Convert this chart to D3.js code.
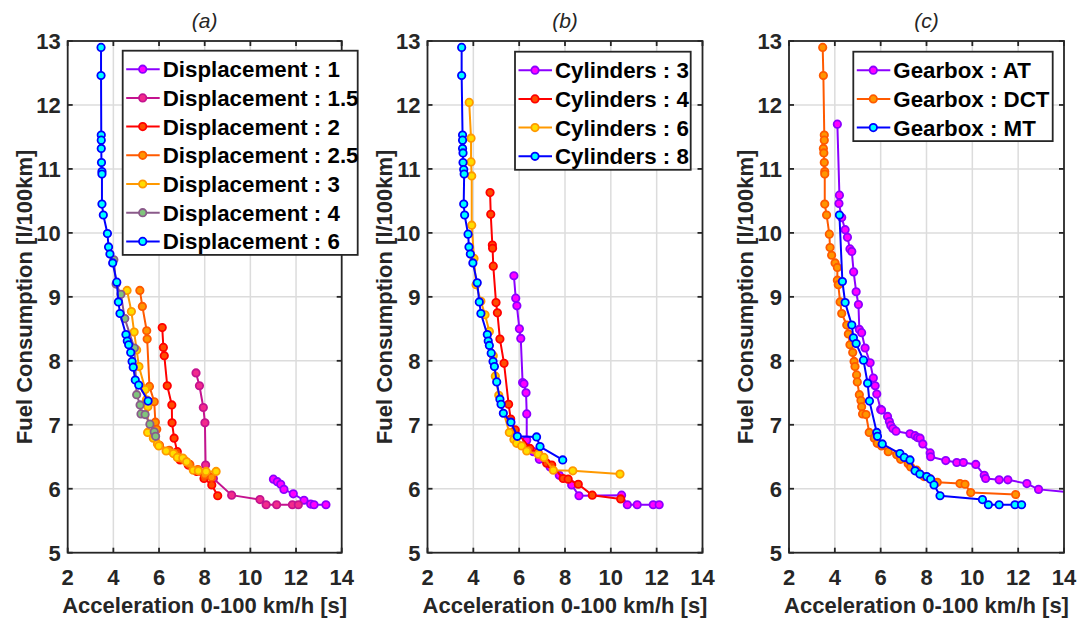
<!DOCTYPE html>
<html>
<head>
<meta charset="utf-8">
<script src="https://cdn.jsdelivr.net/npm/d3@7"></script>
<style>
  html, body { margin: 0; padding: 0; background: #fff; }
  svg { display: block; font-family: "Liberation Sans", Arial, Helvetica, sans-serif; }
</style>
</head>
<body>
<svg id="fig" width="1080" height="619"></svg>
<script>
// Axis ranges and tick values shared by the three panels
const xTicks = [2, 4, 6, 8, 10, 12, 14];
const yTicks = [5, 6, 7, 8, 9, 10, 11, 12, 13];
const xDomain = [2, 14];
const yDomain = [5, 13];
const xLabel = "Acceleration 0-100 km/h [s]";
const yLabel = "Fuel Consumption [l/100km]";

// Panel (a): fronts grouped by engine displacement, [acceleration s, consumption l/100km]
const disp1 = [[11.01,6.15],[11.18,6.11],[11.33,6.07],[11.47,5.99],[11.88,5.92],[12.35,5.82],[12.64,5.76],[12.79,5.75],[13.31,5.75]];
const disp15 = [[7.62,7.81],[7.77,7.61],[7.94,7.27],[8.01,7.03],[8.04,6.37],[8.38,6.16],[9.18,5.90],[10.42,5.83],[10.69,5.75],[11.15,5.75],[11.84,5.75],[12.10,5.75]];
const disp2 = [[6.14,8.52],[6.19,8.21],[6.23,8.08],[6.36,7.61],[6.56,7.31],[6.57,7.03],[6.66,6.79],[6.80,6.58],[6.92,6.45],[7.28,6.37],[7.65,6.27],[7.97,6.16],[8.31,6.06],[8.57,5.89]];
const disp25 = [[5.16,9.10],[5.27,8.85],[5.46,8.47],[5.48,8.34],[5.58,7.60],[5.79,7.36],[5.84,7.04],[5.90,6.93],[6.02,6.68],[6.45,6.60],[6.80,6.52],[7.10,6.45],[7.35,6.38],[7.70,6.30],[8.00,6.22],[8.30,6.18]];
const disp3 = [[4.60,9.10],[4.79,8.77],[4.91,8.45],[5.02,8.17],[5.12,7.91],[5.40,7.55],[5.45,7.39],[5.51,7.28],[5.50,6.88],[5.75,6.79],[5.93,6.70],[5.99,6.67],[6.31,6.59],[6.63,6.55],[6.80,6.49],[7.04,6.48],[7.21,6.42],[7.50,6.29],[7.72,6.28],[8.06,6.27],[8.50,6.27]];
const disp4 = [[4.02,9.58],[4.12,9.20],[4.33,9.04],[4.50,8.66],[4.92,8.20],[5.02,7.47],[5.17,7.31],[5.21,7.17],[5.39,7.16],[5.60,7.01],[5.79,6.89],[5.85,6.82]];
const disp6 = [[3.46,12.90],[3.46,12.46],[3.47,11.53],[3.47,11.45],[3.47,11.32],[3.48,11.10],[3.50,10.96],[3.50,10.92],[3.50,10.45],[3.56,10.28],[3.74,9.99],[3.79,9.78],[3.85,9.67],[3.97,9.53],[4.15,9.23],[4.22,8.92],[4.29,8.74],[4.55,8.41],[4.61,8.31],[4.67,8.25],[4.76,8.13],[4.82,7.99],[4.87,7.90],[4.96,7.70],[5.11,7.62],[5.52,7.37]];

// Panel (b): fronts grouped by number of cylinders
const cyl3 = [[5.77,9.33],[5.85,8.98],[5.90,8.86],[6.01,8.50],[6.07,8.35],[6.15,7.66],[6.21,7.64],[6.30,7.50],[6.33,7.17],[6.33,6.76],[6.62,6.58],[6.88,6.46],[7.35,6.34],[7.75,6.21],[8.29,6.06],[8.61,5.89],[10.47,5.90],[10.72,5.75],[11.15,5.75],[11.85,5.75],[12.11,5.75]];
const cyl4 = [[4.73,10.63],[4.76,10.29],[4.83,9.81],[4.84,9.76],[4.87,9.48],[4.99,8.91],[5.05,8.75],[5.16,8.34],[5.34,7.96],[5.54,7.32],[5.63,7.09],[5.83,6.92],[6.47,6.63],[6.83,6.56],[7.20,6.40],[7.42,6.37],[7.92,6.16],[8.14,6.15],[8.58,6.07],[9.19,5.90],[10.43,5.84]];
const cyl6 = [[3.82,12.04],[3.90,11.48],[3.90,11.11],[3.93,10.89],[3.93,10.12],[4.03,9.60],[4.12,9.19],[4.33,8.93],[4.51,8.72],[4.70,8.46],[4.87,8.08],[4.96,7.76],[5.11,7.46],[5.57,6.88],[5.77,6.77],[5.89,6.71],[6.11,6.67],[6.33,6.59],[6.83,6.54],[7.08,6.49],[7.49,6.29],[8.34,6.28],[10.40,6.23]];
const cyl8 = [[3.49,12.90],[3.49,12.46],[3.53,11.53],[3.53,11.45],[3.53,11.32],[3.55,11.25],[3.55,11.10],[3.58,10.99],[3.60,10.92],[3.58,10.45],[3.62,10.28],[3.77,9.98],[3.81,9.78],[3.87,9.67],[3.98,9.53],[4.17,9.22],[4.26,8.92],[4.33,8.74],[4.61,8.41],[4.65,8.31],[4.70,8.24],[4.78,8.12],[4.86,7.99],[4.92,7.91],[5.02,7.67],[5.16,7.40],[5.21,7.32],[5.31,7.18],[5.64,7.04],[5.92,6.82],[6.76,6.81],[6.91,6.66],[7.90,6.45]];

// Panel (c): fronts grouped by gearbox type
const gbAT = [[4.11,11.70],[4.20,10.59],[4.18,10.46],[4.30,10.24],[4.45,10.05],[4.55,9.93],[4.66,9.75],[4.74,9.71],[4.82,9.39],[4.93,9.08],[5.03,8.88],[5.07,8.49],[5.17,8.44],[5.32,8.20],[5.54,7.97],[5.68,7.73],[5.76,7.61],[5.83,7.48],[6.00,7.24],[6.04,7.23],[6.30,7.13],[6.38,7.05],[6.44,6.99],[6.53,6.94],[6.67,6.90],[7.28,6.86],[7.50,6.83],[7.61,6.80],[7.72,6.79],[7.84,6.70],[8.16,6.56],[8.18,6.50],[8.84,6.44],[9.32,6.41],[9.61,6.41],[10.15,6.38],[10.52,6.21],[10.58,6.16],[11.17,6.14],[11.55,6.14],[12.38,6.08],[12.89,5.99],[14.60,5.93]];
const gbDCT = [[3.47,12.90],[3.50,12.46],[3.54,11.53],[3.54,11.45],[3.50,11.32],[3.52,11.25],[3.54,11.10],[3.56,10.96],[3.56,10.92],[3.56,10.45],[3.64,10.28],[3.76,9.98],[3.79,9.77],[3.86,9.65],[4.01,9.53],[4.11,9.46],[4.11,9.26],[4.15,9.19],[4.23,8.92],[4.30,8.74],[4.52,8.56],[4.59,8.42],[4.66,8.25],[4.78,8.13],[4.84,7.99],[4.88,7.91],[4.95,7.78],[4.98,7.67],[5.07,7.47],[5.14,7.38],[5.17,7.28],[5.21,7.17],[5.36,7.16],[5.50,6.88],[5.72,6.79],[5.85,6.71],[6.04,6.67],[6.33,6.58],[6.70,6.53],[6.87,6.46],[7.20,6.39],[7.31,6.34],[7.57,6.29],[7.89,6.19],[8.15,6.16],[8.47,6.10],[9.46,6.08],[9.68,6.07],[9.93,5.94],[11.89,5.91]];
const gbMT = [[4.20,10.28],[4.33,9.24],[4.45,8.91],[4.74,8.56],[4.81,8.36],[4.93,8.27],[5.25,8.01],[5.43,7.65],[5.51,7.37],[5.83,6.88],[5.86,6.82],[6.07,6.70],[6.84,6.55],[7.03,6.49],[7.28,6.45],[7.50,6.28],[7.71,6.23],[8.01,6.19],[8.18,6.15],[8.33,6.06],[8.59,5.89],[10.44,5.83],[10.70,5.75],[11.17,5.75],[11.86,5.75],[12.15,5.75]];

// Series styles: line / marker edge colour and marker face colour
const PURPLE = { line: "#8c00ff", face: "#ff00ff" };
const CRIMSON = { line: "#c4138f", face: "#f22a8c" };
const RED = { line: "#ff0000", face: "#ff4d00" };
const DARKORANGE = { line: "#ff5a00", face: "#ff9500" };
const ORANGE = { line: "#ff9900", face: "#ffdd00" };
const MAUVE = { line: "#8a5a8a", face: "#80c47c" };
const BLUE = { line: "#0000ff", face: "#00ffff" };

const panels = [
  {
    title: "(a)", left: 67.7, right: 341.7,
    legend: { left: 122.7, top: 50.7, width: 235 },
    series: [
      { name: "Displacement : 1", data: disp1, style: PURPLE },
      { name: "Displacement : 1.5", data: disp15, style: CRIMSON },
      { name: "Displacement : 2", data: disp2, style: RED },
      { name: "Displacement : 2.5", data: disp25, style: DARKORANGE },
      { name: "Displacement : 3", data: disp3, style: ORANGE },
      { name: "Displacement : 4", data: disp4, style: MAUVE },
      { name: "Displacement : 6", data: disp6, style: BLUE }
    ]
  },
  {
    title: "(b)", left: 427.5, right: 702.5,
    legend: { left: 515, top: 51.7, width: 175.7 },
    series: [
      { name: "Cylinders : 3", data: cyl3, style: PURPLE },
      { name: "Cylinders : 4", data: cyl4, style: RED },
      { name: "Cylinders : 6", data: cyl6, style: ORANGE },
      { name: "Cylinders : 8", data: cyl8, style: BLUE }
    ]
  },
  {
    title: "(c)", left: 789, right: 1064,
    legend: { left: 853.3, top: 51.7, width: 199.4 },
    series: [
      { name: "Gearbox : AT", data: gbAT, style: PURPLE },
      { name: "Gearbox : DCT", data: gbDCT, style: DARKORANGE },
      { name: "Gearbox : MT", data: gbMT, style: BLUE }
    ]
  }
];

const TOP = 41, BOTTOM = 552.7;
const AXIS_COLOR = "#262626";
const GRID_COLOR = "#dcdcdc";
const MARKER_R = 3.7;
const FONT = 22;
const svg = d3.select("#fig");

panels.forEach((p, i) => {
  const x = d3.scaleLinear().domain(xDomain).range([p.left, p.right]);
  const y = d3.scaleLinear().domain(yDomain).range([BOTTOM, TOP]);
  const g = svg.append("g");

  // Grid
  g.append("g").selectAll("line").data(xTicks.slice(1, -1)).join("line")
    .attr("x1", d => x(d)).attr("x2", d => x(d)).attr("y1", TOP).attr("y2", BOTTOM)
    .attr("stroke", GRID_COLOR).attr("stroke-width", 1.5);
  g.append("g").selectAll("line").data(yTicks.slice(1, -1)).join("line")
    .attr("y1", d => y(d)).attr("y2", d => y(d)).attr("x1", p.left).attr("x2", p.right)
    .attr("stroke", GRID_COLOR).attr("stroke-width", 1.5);

  // Data, clipped to the axes box
  const clipId = "clip" + i;
  svg.append("clipPath").attr("id", clipId).append("rect")
    .attr("x", p.left).attr("y", TOP - 6).attr("width", p.right - p.left).attr("height", BOTTOM - TOP + 6);
  const plot = g.append("g").attr("clip-path", `url(#${clipId})`);
  const line = d3.line().x(d => x(d[0])).y(d => y(d[1]));
  p.series.forEach(s => {
    const sg = plot.append("g");
    sg.append("path").datum(s.data).attr("d", line)
      .attr("fill", "none").attr("stroke", s.style.line).attr("stroke-width", 2)
      .attr("stroke-linejoin", "round");
    sg.selectAll("circle").data(s.data).join("circle")
      .attr("cx", d => x(d[0])).attr("cy", d => y(d[1])).attr("r", MARKER_R)
      .attr("fill", s.style.face).attr("stroke", s.style.line).attr("stroke-width", 1.8);
  });

  // Axes box with inward ticks on all four sides
  const axisG = g.append("g").attr("stroke", AXIS_COLOR).attr("stroke-width", 1.8);
  axisG.append("rect").attr("x", p.left).attr("y", TOP)
    .attr("width", p.right - p.left).attr("height", BOTTOM - TOP).attr("fill", "none");
  const tl = 5;
  axisG.selectAll(".xtb").data(xTicks).join("line").attr("class", "xtb")
    .attr("x1", d => x(d)).attr("x2", d => x(d)).attr("y1", BOTTOM).attr("y2", BOTTOM - tl);
  axisG.selectAll(".xtt").data(xTicks).join("line").attr("class", "xtt")
    .attr("x1", d => x(d)).attr("x2", d => x(d)).attr("y1", TOP).attr("y2", TOP + tl);
  axisG.selectAll(".ytl").data(yTicks).join("line").attr("class", "ytl")
    .attr("y1", d => y(d)).attr("y2", d => y(d)).attr("x1", p.left).attr("x2", p.left + tl);
  axisG.selectAll(".ytr").data(yTicks).join("line").attr("class", "ytr")
    .attr("y1", d => y(d)).attr("y2", d => y(d)).attr("x1", p.right).attr("x2", p.right - tl);

  // Tick labels
  g.append("g").selectAll("text").data(xTicks).join("text")
    .attr("x", d => x(d)).attr("y", 585).attr("text-anchor", "middle")
    .attr("font-size", FONT).attr("font-weight", "bold").attr("fill", AXIS_COLOR)
    .text(d => d);
  g.append("g").selectAll("text").data(yTicks).join("text")
    .attr("x", p.left - 7).attr("y", d => y(d)).attr("dy", "0.36em").attr("text-anchor", "end")
    .attr("font-size", FONT).attr("font-weight", "bold").attr("fill", AXIS_COLOR)
    .text(d => d);

  // Axis labels and panel title
  g.append("text").attr("x", (p.left + p.right) / 2).attr("y", 613).attr("text-anchor", "middle")
    .attr("font-size", FONT).attr("font-weight", "bold").attr("fill", AXIS_COLOR).text(xLabel);
  g.append("text").attr("transform", `translate(${p.left - 36},${(TOP + BOTTOM) / 2}) rotate(-90)`)
    .attr("text-anchor", "middle")
    .attr("font-size", FONT).attr("font-weight", "bold").attr("fill", AXIS_COLOR).text(yLabel);
  g.append("text").attr("x", (p.left + p.right) / 2).attr("y", 28).attr("text-anchor", "middle")
    .attr("font-size", 21).attr("font-style", "italic").attr("fill", AXIS_COLOR).text(p.title);

  // Legend
  const L = p.legend, rowH = 28.7;
  const lg = g.append("g");
  lg.append("rect").attr("x", L.left).attr("y", L.top).attr("width", L.width)
    .attr("height", 18.5 + (p.series.length - 1) * rowH + 13.5)
    .attr("fill", "#fff").attr("stroke", AXIS_COLOR).attr("stroke-width", 1.8);
  p.series.forEach((s, k) => {
    const cy = L.top + 18.5 + k * rowH;
    lg.append("line").attr("x1", L.left + 3.5).attr("x2", L.left + 37).attr("y1", cy).attr("y2", cy)
      .attr("stroke", s.style.line).attr("stroke-width", 2);
    lg.append("circle").attr("cx", L.left + 20).attr("cy", cy).attr("r", MARKER_R)
      .attr("fill", s.style.face).attr("stroke", s.style.line).attr("stroke-width", 1.8);
    lg.append("text").attr("x", L.left + 40).attr("y", cy).attr("dy", "0.36em")
      .attr("font-size", 22.3).attr("font-weight", "bold").attr("fill", "#000").text(s.name);
  });
});
</script>
</body>
</html>
